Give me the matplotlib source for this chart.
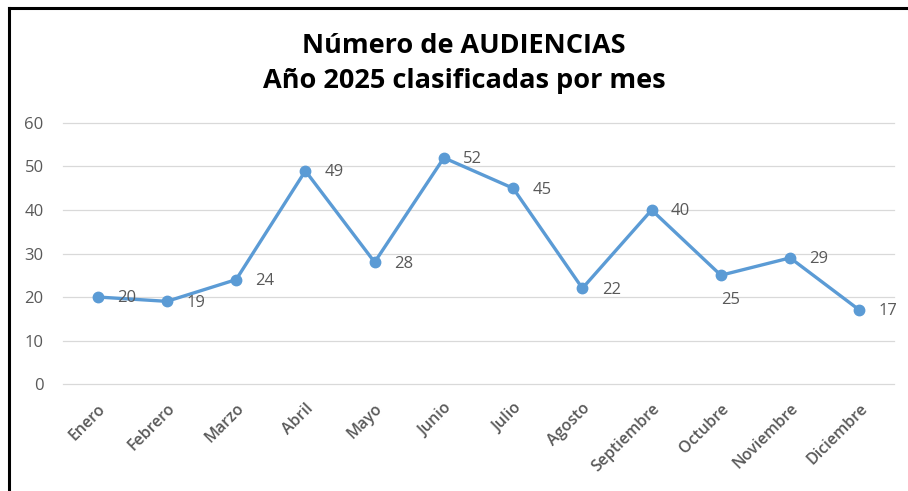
import matplotlib.pyplot as plt
from matplotlib.lines import Line2D

# datos
meses = ['Enero', 'Febrero', 'Marzo', 'Abril', 'Mayo', 'Junio', 'Julio',
         'Agosto', 'Septiembre', 'Octubre', 'Noviembre', 'Diciembre']
audiencias = [20, 19, 24, 49, 28, 52, 45, 22, 40, 25, 29, 17]
yticks = [0, 10, 20, 30, 40, 50, 60]

plt.rcParams['font.family'] = ['Open Sans', 'DejaVu Sans']
gris = '#595959'
azul = '#5B9BD5'

fig = plt.figure(figsize=(9.08, 4.91), dpi=100)
ax = fig.add_axes([0.0694, 0.2179, 0.9152, 0.5316])

x = list(range(len(meses)))
ax.plot(x, audiencias, color=azul, linewidth=2.4, marker='o', markersize=7.5,
        markerfacecolor=azul, markeredgecolor=azul, zorder=3)

# etiquetas de datos (octubre va debajo)
for i, v in enumerate(audiencias):
    if meses[i] == 'Octubre':
        ax.annotate(str(v), (i, v), xytext=(7, -18), textcoords='offset points',
                    ha='center', va='center', fontsize=12, color=gris)
    else:
        ax.annotate(str(v), (i, v), xytext=(14, -1), textcoords='offset points',
                    ha='left', va='center', fontsize=12, color=gris)

ax.set_xlim(-0.5, len(meses) - 0.5)
ax.set_ylim(0, 60)
ax.set_yticks(yticks)
ax.set_xticks(x)
ax.set_xticklabels(meses, rotation=45, ha='right', rotation_mode='anchor',
                   fontsize=11.5, color=gris, fontweight='semibold')
ax.tick_params(axis='y', labelsize=12, labelcolor=gris, length=0, pad=14)
ax.tick_params(axis='x', length=0, pad=12)
ax.grid(axis='y', color='#D9D9D9', linewidth=0.9)
for gl in ax.get_ygridlines():
    gl.set_clip_on(False)
ax.set_axisbelow(True)
for s in ax.spines.values():
    s.set_visible(False)

fig.text(0.511, 0.907, 'Número de AUDIENCIAS', ha='center', va='center',
         fontsize=19.5, fontweight='bold', color='black')
fig.text(0.511, 0.836, 'Año 2025 clasificadas por mes', ha='center', va='center',
         fontsize=19.5, fontweight='bold', color='black')

# borde negro (izquierda y arriba)
fig.add_artist(Line2D([9 / 908, 9 / 908], [0, 1 - 8 / 491], transform=fig.transFigure,
                      color='black', linewidth=2.2))
fig.add_artist(Line2D([9 / 908, 1], [1 - 8 / 491, 1 - 8 / 491], transform=fig.transFigure,
                      color='black', linewidth=2.2))

fig.savefig('out.png', dpi=100)
